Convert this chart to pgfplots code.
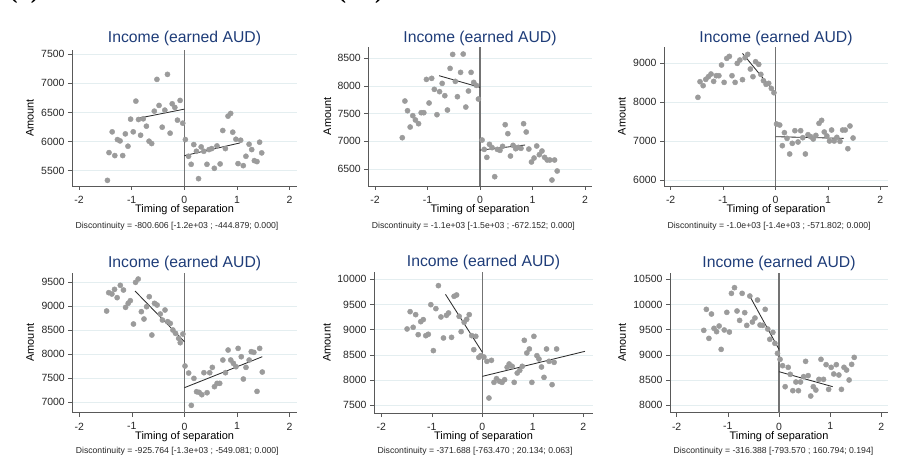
\documentclass[border=0pt]{standalone}
\usepackage{fontspec}
\setmainfont{Liberation Sans}
\newfontfamily\headserif{Liberation Serif}
\usepackage{pgfplots}
\pgfplotsset{compat=1.18}
\definecolor{titleblue}{RGB}{30,60,120}
\definecolor{markgray}{RGB}{155,155,155}
\definecolor{gridcol}{RGB}{228,238,240}
\definecolor{vlinecol}{RGB}{115,115,115}
\definecolor{fitcol}{RGB}{45,45,45}
\tikzset{note/.style={anchor=west, font=\fontsize{8.7}{10}\selectfont, text=black!85}}
\pgfplotsset{
 every axis title/.style={at={(0.5,1)}, anchor=center},
 stata/.style={
  scale only axis,
  axis lines=left,
  axis line style={-, black!65, line width=0.6bp},
  tick align=outside,
  major tick length=4bp,
  tick style={black!65, line width=0.6bp},
  scaled ticks=false,
  xtick={-2,-1,0,1,2},
  xticklabels={-2,-1,0,1,2},
  ymajorgrids,
  grid style={gridcol, line width=0.7bp},
  tick label style={font=\fontsize{10.5}{12}\selectfont, text=black!85},
  xticklabel style={yshift=-2.5bp},
  xlabel={Timing of separation},
  ylabel={Amount},
  xlabel style={font=\fontsize{11}{13}\selectfont, at={(axis description cs:0.5,0)}, anchor=center, yshift=-24bp},
  ylabel style={font=\fontsize{11}{13}\selectfont, anchor=center},
  title={Income (earned AUD)},
  title style={font=\fontsize{15.8}{18}\selectfont, text=titleblue},
  clip=false,
 },
 pts/.style={only marks, mark=*, mark size=2.6bp, mark options={fill=markgray, draw=markgray}},
 fit/.style={fitcol, line width=0.85bp},
 vl/.style={vlinecol, line width=1.3bp},
}
\begin{document}
\begin{tikzpicture}
\path[use as bounding box] (0,0) rectangle (902bp,473bp);
\clip (0,0) rectangle (902bp,473bp);
\node[anchor=base west, font=\headserif\bfseries\fontsize{24}{26}\selectfont] at (6bp,474bp) {(b)};
\node[anchor=base west, font=\headserif\bfseries\fontsize{24}{26}\selectfont] at (100bp,474bp) {Annual labour income (\$A)};

% Panel 1
\begin{axis}[stata, at={(72bp,287bp)}, anchor=south west, width=225bp, height=136bp,
  xmin=-2.133, xmax=2.14, ymin=5236, ymax=7574,
  ytick={5500,6000,6500,7000,7500}, yticklabels={5500,6000,6500,7000,7500},
  ylabel style={at={(axis description cs:-0.187,0.5)}},
  title style={yshift=12bp}]
\addplot[vl] coordinates {(0,5236) (0,7574)};
\addplot[pts] coordinates {(-1.46,5333) (-1.43,5810) (-1.37,6167) (-1.32,5759) (-1.27,6034) (-1.22,6011) (-1.17,5759) (-1.12,6132) (-1.07,5920) (-1.02,6385) (-0.97,6167) (-0.92,6695) (-0.87,6379) (-0.83,6109) (-0.78,6391) (-0.72,6264) (-0.67,6006) (-0.62,5966) (-0.57,6523) (-0.52,7069) (-0.48,6621) (-0.42,6247) (-0.37,6540) (-0.32,7155) (-0.27,6144) (-0.23,6649) (-0.18,6586) (-0.13,6368) (-0.08,6707) (-0.03,6316)
(0.02,6034) (0.08,5747) (0.13,5609) (0.18,5948) (0.23,5833) (0.27,5362) (0.32,5908) (0.37,5833) (0.43,5609) (0.47,5862) (0.52,5879) (0.57,5540) (0.62,5925) (0.68,5615) (0.73,6190) (0.78,5879) (0.83,6437) (0.88,6483) (0.92,6161) (0.98,6040) (1.02,5621) (1.07,6023) (1.12,5586) (1.17,5747) (1.23,5954) (1.28,5862) (1.33,5672) (1.38,5655) (1.43,5989) (1.47,5805)};
\addplot[fit] coordinates {(-0.895,6397) (0,6557)};
\addplot[fit] coordinates {(0,5757) (1.06,5977)};
\node[note, yshift=-40bp] at (axis description cs:0,0) {Discontinuity = -800.606 [-1.2e+03 ; -444.879; 0.000]};
\end{axis}

% Panel 2
\begin{axis}[stata, at={(368.3bp,287bp)}, anchor=south west, width=223.4bp, height=139.3bp,
  xmin=-2.127, xmax=2.127, ymin=6193, ymax=8711,
  ytick={6500,7000,7500,8000,8500}, yticklabels={6500,7000,7500,8000,8500},
  ylabel style={at={(axis description cs:-0.1835,0.5)}},
  title style={yshift=8.7bp}]
\addplot[vl] coordinates {(0,6193) (0,8711)};
\addplot[pts] coordinates {(-1.48,7066) (-1.43,7729) (-1.38,7554) (-1.33,7259) (-1.28,7464) (-1.23,7386) (-1.17,7319) (-1.12,7518) (-1.07,7518) (-1.02,8120) (-0.97,7693) (-0.92,8139) (-0.87,7940) (-0.82,7482) (-0.77,7898) (-0.72,8048) (-0.67,7825) (-0.62,7566) (-0.57,8319) (-0.52,8572) (-0.47,8084) (-0.43,7807) (-0.37,8247) (-0.32,8578) (-0.27,7620) (-0.22,7910) (-0.17,8247) (-0.12,8066) (-0.07,8012) (-0.03,7765)
(0.04,7024) (0.08,6855) (0.13,6711) (0.18,6946) (0.23,6886) (0.28,6361) (0.33,6855) (0.38,6837) (0.43,6910) (0.48,7301) (0.53,7139) (0.58,6735) (0.63,6928) (0.68,6867) (0.73,6891) (0.78,6874) (0.83,7319) (0.88,7169) (0.93,6861) (0.98,6627) (1.03,6699) (1.08,6916) (1.13,6759) (1.18,6825) (1.23,6711) (1.28,6663) (1.33,6663) (1.42,6663) (1.37,6301) (1.47,6464)};
\addplot[fit] coordinates {(-0.78,8187) (0,7976)};
\addplot[fit] coordinates {(0,6841) (0.86,6934)};
\node[note, yshift=-40bp] at (axis description cs:0,0) {Discontinuity = -1.1e+03 [-1.5e+03 ; -672.152; 0.000]};
\end{axis}

% Panel 3
\begin{axis}[stata, at={(664bp,287bp)}, anchor=south west, width=224bp, height=139.3bp,
  xmin=-2.127, xmax=2.146, ymin=5846, ymax=9419,
  ytick={6000,7000,8000,9000}, yticklabels={6000,7000,8000,9000},
  ylabel style={at={(axis description cs:-0.1875,0.5)}},
  title style={yshift=8.7bp}]
\addplot[vl] coordinates {(0,5846) (0,9419)};
\addplot[pts] coordinates {(-1.48,8120) (-1.44,8521) (-1.38,8419) (-1.33,8581) (-1.28,8650) (-1.23,8718) (-1.18,8530) (-1.13,8675) (-1.08,8675) (-1.03,8949) (-0.98,8504) (-0.93,9120) (-0.88,9171) (-0.83,8675) (-0.77,8504) (-0.73,8991) (-0.68,9077) (-0.63,8573) (-0.58,9137) (-0.53,9222) (-0.48,8846) (-0.43,8650) (-0.38,9034) (-0.32,8966) (-0.28,8709) (-0.23,8547) (-0.18,8453) (-0.13,8479) (-0.08,8350) (-0.03,8239)
(0.02,7436) (0.08,7410) (0.13,6880) (0.17,7214) (0.22,7068) (0.27,6667) (0.32,6940) (0.37,7265) (0.43,6974) (0.48,7265) (0.52,7085) (0.57,6667) (0.62,7162) (0.67,7111) (0.72,7051) (0.77,7145) (0.83,7453) (0.88,7530) (0.93,7231) (0.98,7128) (1.03,7000) (1.07,7282) (1.12,7000) (1.17,7094) (1.23,6991) (1.28,7282) (1.33,7282) (1.38,6803) (1.42,7385) (1.48,7077)};
\addplot[fit] coordinates {(-0.63,9248) (0,8222)};
\addplot[fit] coordinates {(0,7111) (1.30,7068)};
\node[note, yshift=-40bp] at (axis description cs:0,0) {Discontinuity = -1.0e+03 [-1.4e+03 ; -571.802; 0.000]};
\end{axis}

% Panel 4
\begin{axis}[stata, at={(72.3bp,60.3bp)}, anchor=south west, width=224.7bp, height=140bp,
  xmin=-2.133, xmax=2.14, ymin=6785, ymax=9701,
  ytick={7000,7500,8000,8500,9000,9500}, yticklabels={7000,7500,8000,8500,9000,9500},
  ylabel style={at={(axis description cs:-0.187,0.5)}},
  title style={yshift=9.4bp}]
\addplot[vl] coordinates {(0,6785) (0,9701)};
\addplot[pts] coordinates {(-1.48,8903) (-1.44,9285) (-1.38,9257) (-1.33,9354) (-1.28,9181) (-1.22,9438) (-1.16,9340) (-1.12,8979) (-1.07,9063) (-1.03,9118) (-0.97,8632) (-0.93,9500) (-0.88,9569) (-0.82,8889) (-0.77,8736) (-0.72,8993) (-0.67,9201) (-0.62,8403) (-0.57,9063) (-0.52,9028) (-0.46,8840) (-0.42,8715) (-0.37,8924) (-0.32,8681) (-0.27,8646) (-0.22,8507) (-0.17,8438) (-0.11,8333) (-0.08,8243) (-0.03,8424)
(0.01,7757) (0.08,7611) (0.13,6938) (0.18,7500) (0.23,7222) (0.28,7208) (0.33,7160) (0.37,7618) (0.43,7201) (0.48,7618) (0.53,7729) (0.57,7327) (0.62,7396) (0.67,7396) (0.73,7882) (0.78,7618) (0.83,8090) (0.88,7882) (0.93,7813) (0.98,7743) (1.02,8125) (1.08,7951) (1.12,7486) (1.17,7729) (1.23,7882) (1.27,8056) (1.32,8042) (1.38,7229) (1.43,8125) (1.48,7632)};
\addplot[fit] coordinates {(-0.94,9319) (0,8264)};
\addplot[fit] coordinates {(0,7306) (1.48,7951)};
\node[note, yshift=-38.5bp] at (axis description cs:0,0) {Discontinuity = -925.764 [-1.3e+03 ; -549.081; 0.000]};
\end{axis}

% Panel 5
\begin{axis}[stata, at={(374bp,60bp)}, anchor=south west, width=219bp, height=140.7bp,
  xmin=-2.145, xmax=2.19, ymin=7348, ymax=10139,
  ytick={7500,8000,8500,9000,9500,10000}, yticklabels={7500,8000,8500,9000,9500,10000},
  ylabel style={at={(axis description cs:-0.2146,0.5)}},
  title style={yshift=9.4bp}]
\addplot[vl] coordinates {(0,7348) (0,10139)};
\addplot[pts] coordinates {(-1.49,9015) (-1.43,9358) (-1.37,9048) (-1.32,9299) (-1.27,8902) (-1.22,9160) (-1.17,9200) (-1.12,8882) (-1.07,8909) (-1.02,9497) (-0.97,8585) (-0.92,9418) (-0.87,9874) (-0.82,9253) (-0.77,8836) (-0.71,9286) (-0.67,9332) (-0.61,8849) (-0.56,9663) (-0.51,9689) (-0.46,9266) (-0.42,8962) (-0.36,9147) (-0.31,9206) (-0.26,9299) (-0.21,8882) (-0.17,8604) (-0.13,8869) (-0.07,8452) (-0.03,8485)
(0.03,8459) (0.09,8373) (0.13,7645) (0.18,8393) (0.23,7956) (0.28,8029) (0.34,7976) (0.39,7956) (0.44,8009) (0.49,8254) (0.53,8320) (0.59,8274) (0.63,7956) (0.69,8141) (0.74,8194) (0.79,8274) (0.83,8790) (0.88,8538) (0.93,8618) (0.98,7956) (1.02,8869) (1.08,8485) (1.12,8419) (1.17,8261) (1.22,8055) (1.27,8618) (1.32,8373) (1.38,7910) (1.42,8353) (1.47,8618)};
\addplot[fit] coordinates {(-0.73,9702) (0,8552)};
\addplot[fit] coordinates {(0,8075) (2.03,8571)};
\node[note, yshift=-38.5bp] at (axis description cs:0,0) {Discontinuity = -371.688 [-763.470 ; 20.134; 0.063]};
\end{axis}

% Panel 6
\begin{axis}[stata, at={(670bp,60.3bp)}, anchor=south west, width=218bp, height=140bp,
  xmin=-2.13, xmax=2.13, ymin=7854, ymax=10632,
  ytick={8000,8500,9000,9500,10000,10500}, yticklabels={8000,8500,9000,9500,10000,10500},
  ylabel style={at={(axis description cs:-0.22,0.5)}},
  title style={yshift=9.4bp}]
\addplot[vl] coordinates {(0,7854) (0,10632)};
\addplot[pts] coordinates {(-1.47,9488) (-1.42,9905) (-1.37,9329) (-1.32,9812) (-1.27,9528) (-1.22,9462) (-1.17,9574) (-1.13,9111) (-1.07,9495) (-1.02,9845) (-0.97,9455) (-0.93,10222) (-0.87,10335) (-0.82,9872) (-0.77,9686) (-0.72,10222) (-0.67,9839) (-0.63,9587) (-0.57,10169) (-0.52,9653) (-0.47,9733) (-0.42,10090) (-0.37,9594) (-0.32,9587) (-0.27,9905) (-0.22,9514) (-0.18,9310) (-0.12,9448) (-0.08,9230) (-0.03,9032)
(0.02,8913) (0.07,8787) (0.12,8370) (0.18,8754) (0.22,8615) (0.27,8291) (0.33,8463) (0.38,8291) (0.42,8463) (0.48,8569) (0.52,8873) (0.57,8589) (0.62,8185) (0.67,8370) (0.72,8304) (0.78,8516) (0.82,8913) (0.87,8516) (0.92,8807) (0.97,8317) (1.02,8754) (1.07,8622) (1.12,8807) (1.17,8602) (1.22,8317) (1.27,8754) (1.32,8701) (1.37,8503) (1.42,8813) (1.47,8952)};
\addplot[fit] coordinates {(-0.59,10202) (0,9111)};
\addplot[fit] coordinates {(0,8668) (1.05,8370)};
\node[note, yshift=-38.5bp] at (axis description cs:0,0) {Discontinuity = -316.388 [-793.570 ; 160.794; 0.194]};
\end{axis}
\end{tikzpicture}
\end{document}
